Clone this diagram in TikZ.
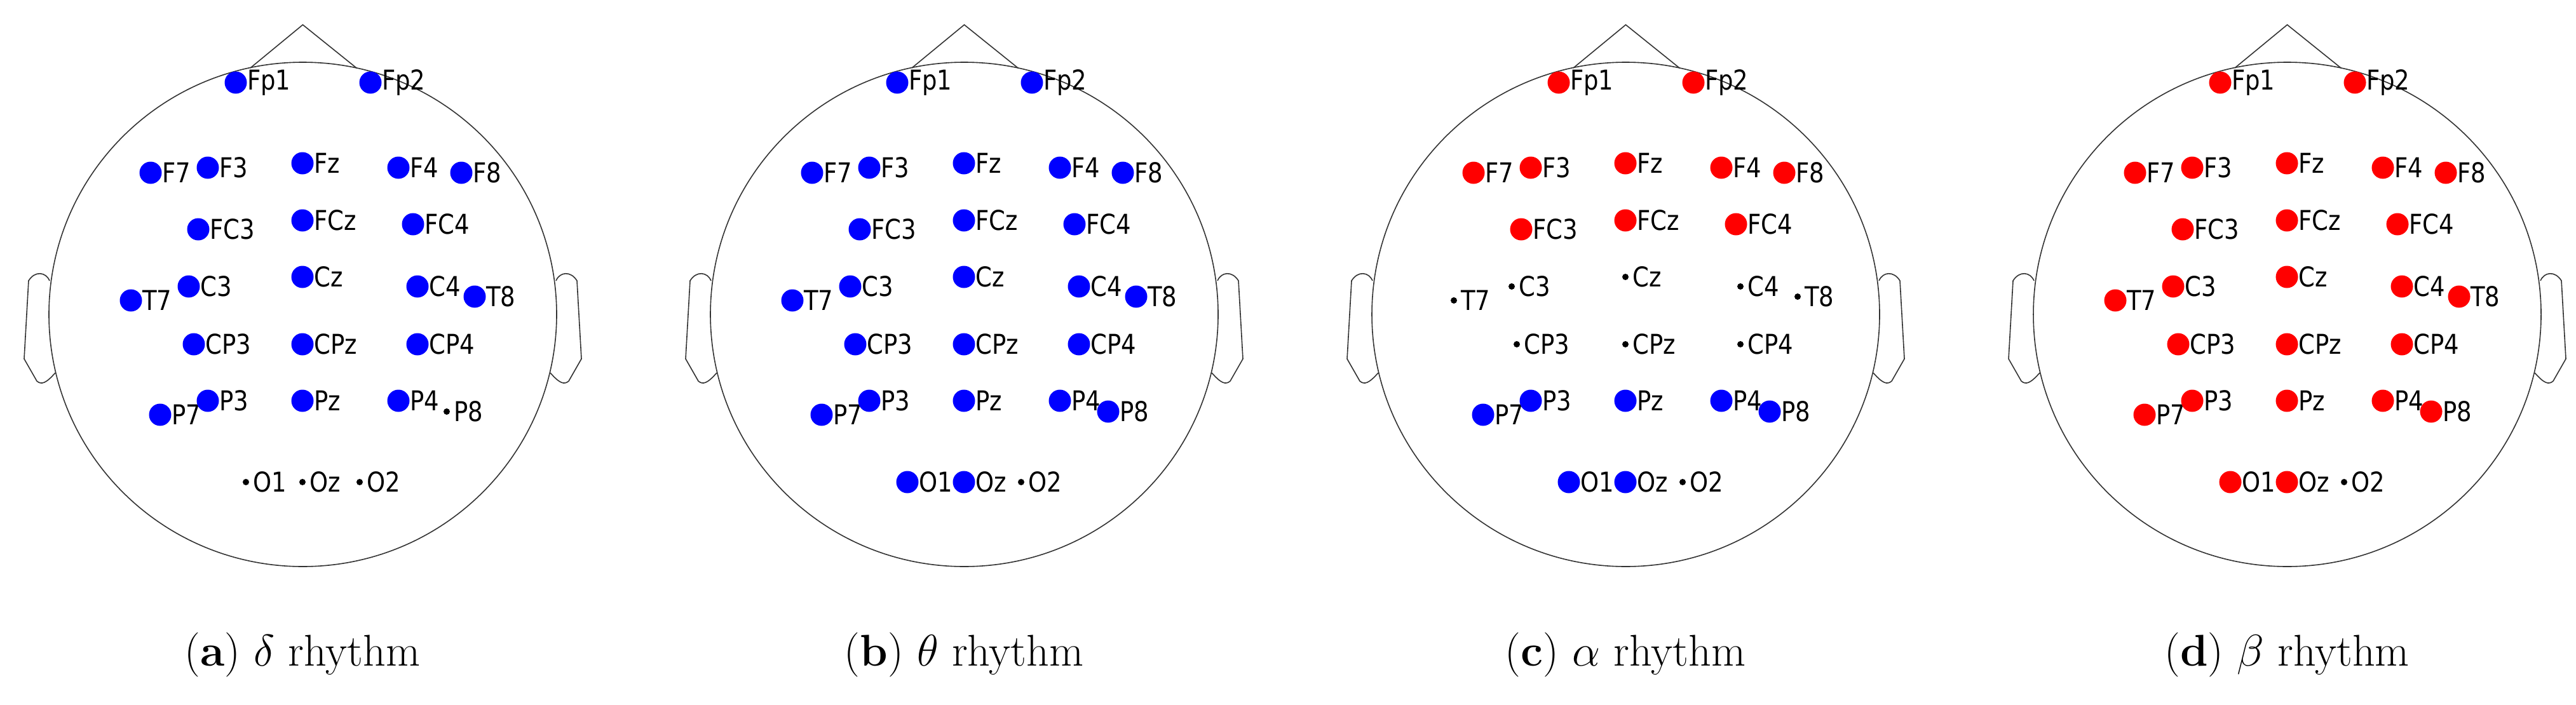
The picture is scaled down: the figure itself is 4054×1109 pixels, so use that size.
\RequirePackage{fix-cm}
\documentclass[tikz,border=0pt]{standalone}
\usepackage{fontspec}
\newfontfamily\lab[FakeStretch=0.86]{DejaVu Sans}
\begin{document}
\begin{tikzpicture}[x=1pt,y=-1pt,
  big/.style={circle,inner sep=0,minimum size=35pt},
  small/.style={circle,fill=black,inner sep=0,minimum size=10pt},
  elab/.style={anchor=west,inner sep=0,font=\lab\fontsize{43}{43}\selectfont},
  outline/.style={line width=1.6pt,black!80}]
\useasboundingbox (0,0) rectangle (4054,1109);
\definecolor{eb}{RGB}{0,0,255}
\definecolor{er}{RGB}{255,0,0}
\foreach \p/\pl/\sym in {0/a/\delta,1/b/\theta,2/c/\alpha,3/d/\beta}{
\begin{scope}[xshift={\p*1041pt}]
  \draw[outline] (476.5,495) ellipse [x radius=399.5, y radius=397];
  \draw[outline] (394,107) -- (476.5,39) -- (561,107);
  \draw[outline] (78,442) .. controls (72,428) and (55,426) .. (45,442) -- (38,565) -- (58,600) .. controls (65,606) and (72,604) .. (87,587);
  \draw[outline] (875,442) .. controls (881,428) and (898,426) .. (908,442) -- (915,565) -- (895,600) .. controls (888,606) and (881,604) .. (866,587);
  \foreach \n/\x/\y/\ta/\tb/\tc/\td in {
    Fp1/371/130/1/1/2/2, Fp2/583/130/1/1/2/2,
    F7/237/272/1/1/2/2, F3/327/264/1/1/2/2, Fz/476/257/1/1/2/2, F4/627/264/1/1/2/2, F8/726/272/1/1/2/2,
    FC3/312/361/1/1/2/2, FCz/476/347/1/1/2/2, FC4/650/353/1/1/2/2,
    T7/206/473/1/1/0/2, C3/297/451/1/1/0/2, Cz/476/436/1/1/0/2, C4/657/451/1/1/0/2, T8/747/467/1/1/0/2,
    CP3/305/542/1/1/0/2, CPz/476/542/1/1/0/2, CP4/657/542/1/1/0/2,
    P7/252/653/1/1/1/2, P3/327/631/1/1/1/2, Pz/476/631/1/1/1/2, P4/627/631/1/1/1/2, P8/703/648/0/1/1/2,
    O1/387/759/0/1/1/2, Oz/476/759/0/1/1/2, O2/566/759/0/0/0/0}{
    \pgfmathtruncatemacro\t{{\ta,\tb,\tc,\td}[\p]}
    \ifcase\t
      \node[small] (\pl-\n) at (\x,\y) {};
      \node[elab] (\pl-\n-t) at (\x+11,\y) {\n};
    \or
      \node[big,fill=eb] (\pl-\n) at (\x,\y) {};
      \node[elab] (\pl-\n-t) at (\x+18,\y) {\n};
    \or
      \node[big,fill=er] (\pl-\n) at (\x,\y) {};
      \node[elab] (\pl-\n-t) at (\x+18,\y) {\n};
    \fi
  }
  \node[font=\fontsize{70}{70}\selectfont] (\pl-cap) at (476,1031) {(\textbf{\pl}) $\sym$ rhythm};
\end{scope}}
\end{tikzpicture}
\end{document}
